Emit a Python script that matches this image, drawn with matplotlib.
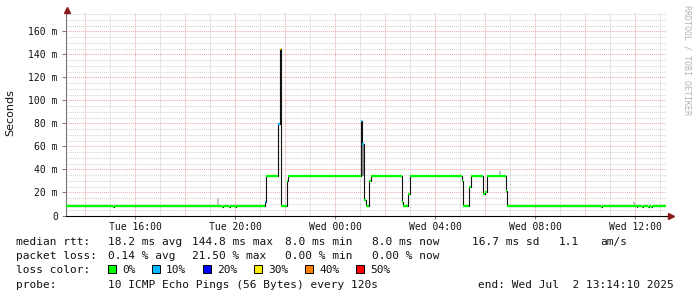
import numpy as np
import pandas as pd
import matplotlib
matplotlib.use("Agg")
import matplotlib.pyplot as plt
import matplotlib.dates as mdates
from matplotlib.lines import Line2D
from matplotlib.patches import Rectangle

# ---------------- data ----------------
start_time = "2025-07-01 13:14:10"
end_time = "2025-07-02 13:14:10"

seg_times = [
    "2025-07-01 13:14:10", "2025-07-01 15:06", "2025-07-01 15:10",
    "2025-07-01 19:28", "2025-07-01 19:30", "2025-07-01 19:46", "2025-07-01 19:48",
    "2025-07-01 20:00", "2025-07-01 20:02",
    "2025-07-01 21:12", "2025-07-01 21:14", "2025-07-01 21:43", "2025-07-01 21:47",
    "2025-07-01 21:50", "2025-07-01 22:03", "2025-07-01 22:07",
    "2025-07-02 01:01", "2025-07-02 01:03", "2025-07-02 01:09", "2025-07-02 01:14",
    "2025-07-02 01:21", "2025-07-02 01:25",
    "2025-07-02 02:39", "2025-07-02 02:43", "2025-07-02 02:55", "2025-07-02 03:00",
    "2025-07-02 05:03", "2025-07-02 05:07", "2025-07-02 05:20", "2025-07-02 05:25",
    "2025-07-02 05:55", "2025-07-02 05:59", "2025-07-02 06:03",
    "2025-07-02 06:49", "2025-07-02 06:52",
    "2025-07-02 10:38", "2025-07-02 10:40", "2025-07-02 12:03", "2025-07-02 12:05",
    "2025-07-02 12:15", "2025-07-02 12:19", "2025-07-02 12:31", "2025-07-02 12:33",
    "2025-07-02 12:37", "2025-07-02 12:39",
]
seg_rtt_ms = [
    8.0, 7.5, 8.0,
    7.5, 8.0, 7.5, 8.0,
    7.5, 8.0,
    11.5, 34.2, 79.4, 144.8,
    8.0, 29.6, 34.2,
    82.0, 62.0, 13.6, 8.0,
    29.6, 34.2,
    11.6, 8.0, 18.3, 34.2,
    30.4, 8.0, 24.6, 34.2,
    18.8, 20.3, 34.2,
    21.7, 8.0,
    7.5, 8.0, 7.5, 8.0,
    7.5, 8.0, 7.5, 8.0,
    7.5, 8.0,
]
seg_loss_pct = [
    0, 0, 0,
    0, 0, 0, 0,
    0, 0,
    10, 0, 10, 30,
    0, 0, 0,
    10, 10, 0, 0,
    0, 0,
    0, 0, 0, 0,
    0, 0, 0, 0,
    0, 0, 0,
    0, 0,
    0, 0, 0, 0,
    0, 0, 0, 0,
    0, 0,
]

smoke_start = ["2025-07-01 19:15", "2025-07-02 01:03", "2025-07-02 06:34", "2025-07-02 11:55"]
smoke_end = ["2025-07-01 19:20", "2025-07-02 01:09", "2025-07-02 06:37", "2025-07-02 12:00"]
smoke_low_ms = [8.0, 34.2, 34.2, 8.0]
smoke_high_ms = [15.4, 63.0, 39.0, 11.6]
smoke_shade = ["#c4c4c4", "#8c8c8c", "#c4c4c4", "#c4c4c4"]

y_ticks_ms = [0, 20, 40, 60, 80, 100, 120, 140, 160]
y_tick_labels = ["0", "20 m", "40 m", "60 m", "80 m", "100 m", "120 m", "140 m", "160 m"]
x_label_times = ["2025-07-01 16:00", "2025-07-01 20:00", "2025-07-02 00:00",
                 "2025-07-02 04:00", "2025-07-02 08:00", "2025-07-02 12:00"]
x_tick_labels = ["Tue 16:00", "Tue 20:00", "Wed 00:00", "Wed 04:00", "Wed 08:00", "Wed 12:00"]

loss_levels = [0, 10, 20, 30, 40, 50]
loss_labels = ["0%", "10%", "20%", "30%", "40%", "50%"]
loss_colors = ["#00ff00", "#00b8ff", "#0000ff", "#ffee00", "#ff8000", "#ff0000"]

row_rtt = ["median rtt:", "18.2 ms avg", "144.8 ms max", "8.0 ms min", "8.0 ms now",
           "16.7 ms sd", "1.1", "am/s"]
row_loss = ["packet loss:", "0.14 % avg", "21.50 % max", "0.00 % min", "0.00 % now"]
row_probe = ["probe:", "10 ICMP Echo Pings (56 Bytes) every 120s", "end: Wed Jul  2 13:14:10 2025"]


def to_num(ts):
    return mdates.date2num(pd.to_datetime(ts, format="mixed"))


# ---------------- layout helpers ----------------
W, H, DPI = 697, 297, 100
MONO = "DejaVu Sans Mono"


def fx(px):
    return px / W


def fy(py):
    return 1 - py / H


fig = plt.figure(figsize=(W / DPI, H / DPI), dpi=DPI)
fig.patch.set_facecolor("white")

ax_l, ax_r, ax_t, ax_b = 66.2, 666.2, 13.0, 215.5
ax = fig.add_axes([fx(ax_l), fy(ax_b), fx(ax_r) - fx(ax_l), fy(ax_t) - fy(ax_b)])

t0 = mdates.date2num(pd.Timestamp(start_time))
t1 = mdates.date2num(pd.Timestamp(end_time))
ax.set_xlim(t0, t1)
ax.set_ylim(0, 176)

# ---------------- grid ----------------
hours = pd.date_range(pd.Timestamp(start_time).ceil("h"), pd.Timestamp(end_time), freq="h")
for h in hours:
    if h.hour % 2 == 1:
        ax.axvline(mdates.date2num(h), color="#d2d2d2", lw=0.75, ls=(0, (1, 1)), zorder=0.5)
for h in hours:
    if h.hour % 2 == 0:
        ax.axvline(mdates.date2num(h), color="#eeaaaa", lw=0.75, ls=(0, (1, 1)), zorder=0.6)
for v in range(5, 176, 5):
    if v % 20 != 0:
        ax.axhline(v, color="#d2d2d2", lw=0.75, ls=(0, (1, 1)), zorder=0.5)
for v in range(20, 176, 20):
    ax.axhline(v, color="#eeaaaa", lw=0.75, ls=(0, (1, 1)), zorder=0.6)

# ---------------- smoke ----------------
s0 = to_num(smoke_start)
s1 = to_num(smoke_end)
lo = np.array(smoke_low_ms)
hi = np.array(smoke_high_ms)
ax.bar(s0, hi - lo, bottom=lo, width=s1 - s0, align="edge", color=smoke_shade,
       linewidth=0, zorder=1)

# ---------------- median line ----------------
tn = to_num(seg_times)
edges = np.append(tn, t1)
vals = np.array(seg_rtt_ms)
ax.step(edges, np.append(vals, vals[-1]), where="post", color="#111111", lw=0.8, zorder=2)
cols = [loss_colors[loss_levels.index(l)] for l in seg_loss_pct]
ax.hlines(vals, edges[:-1], edges[1:], colors=cols, lw=1.6, capstyle="butt", zorder=3)

# ---------------- axes styling ----------------
for s in ["top", "right"]:
    ax.spines[s].set_visible(False)
ax.spines["left"].set_color("#777777")
ax.spines["left"].set_linewidth(0.8)
ax.spines["bottom"].set_color("#000000")
ax.spines["bottom"].set_linewidth(0.8)

ax.set_yticks(y_ticks_ms)
ax.set_yticklabels(y_tick_labels, fontfamily=MONO, fontsize=7, color="#111111")
ax.set_xticks(to_num(x_label_times))
ax.set_xticklabels(x_tick_labels, fontfamily=MONO, fontsize=7, color="#111111")
ax.tick_params(axis="y", length=3, width=0.7, color="#777777", pad=3)
ax.tick_params(axis="x", length=2, width=0.7, color="#777777", pad=3)

# axis extensions and arrows
fig.add_artist(Line2D([fx(66.7), fx(66.7)], [fy(ax_t), fy(9)], color="#777777", lw=0.8))
fig.add_artist(Line2D([fx(ax_r), fx(669)], [fy(ax_b), fy(ax_b)], color="#000000", lw=0.8))
fig.add_artist(Line2D([fx(66.7)], [fy(9.5)], marker="^", markersize=4.5, color="#8b1a1a",
                      linestyle="none"))
fig.add_artist(Line2D([fx(671)], [fy(ax_b)], marker=">", markersize=4.5, color="#8b1a1a",
                      linestyle="none"))

# labels
fig.text(fx(10), fy(113), "Seconds", rotation=90, ha="center", va="center",
         fontsize=8, fontfamily="DejaVu Sans", color="#111111")
fig.text(fx(687.3), fy(5), "RRDTOOL / TOBI OETIKER", rotation=270, ha="center", va="top",
         fontsize=6, fontfamily=MONO, color="#b4b4b4")

# ---------------- legend text ----------------
LFS = 8
rtt_x = [16, 107.7, 192.3, 285, 372.3, 472.3, 558.3, 600]
for s, x in zip(row_rtt, rtt_x):
    fig.text(fx(x), fy(245), s, fontsize=LFS, fontfamily=MONO, va="baseline", color="#111111")
loss_x = [16, 107.7, 192.3, 285, 372.3]
for s, x in zip(row_loss, loss_x):
    fig.text(fx(x), fy(259), s, fontsize=LFS, fontfamily=MONO, va="baseline", color="#111111")

fig.text(fx(16), fy(273), "loss color:", fontsize=LFS, fontfamily=MONO, va="baseline",
         color="#111111")
box_x = [108, 152, 203, 254, 305, 356]
for lab, col, x in zip(loss_labels, loss_colors, box_x):
    fig.add_artist(Rectangle((fx(x), fy(272.5)), 8 / W, 8 / H, facecolor=col,
                             edgecolor="#000000", lw=0.7, transform=fig.transFigure))
    fig.text(fx(x + 14), fy(273), lab, fontsize=LFS, fontfamily=MONO, va="baseline",
             color="#111111")

probe_x = [16, 107.7, 478.3]
for s, x in zip(row_probe, probe_x):
    fig.text(fx(x), fy(287.5), s, fontsize=LFS, fontfamily=MONO, va="baseline", color="#111111")

fig.savefig("out.png", dpi=DPI, facecolor="white")
